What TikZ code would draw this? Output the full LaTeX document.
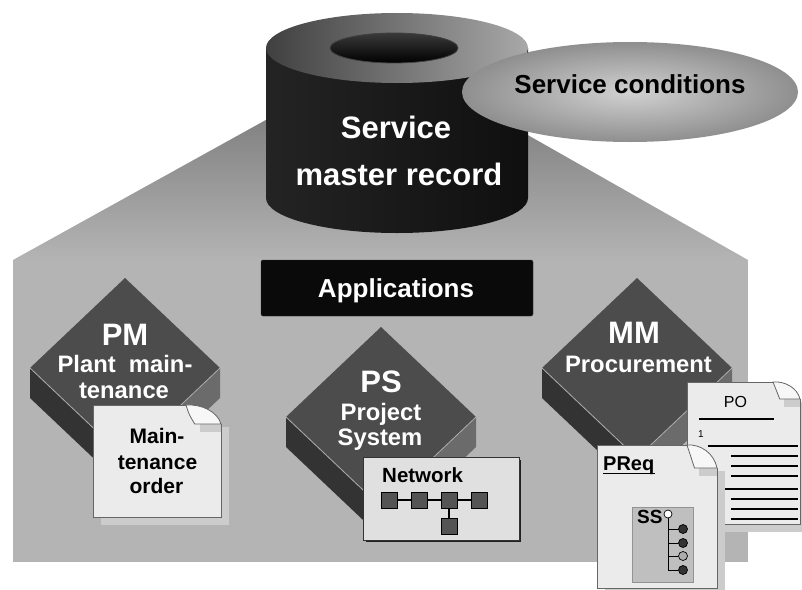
\documentclass[tikz,border=0pt]{standalone}
\usepackage{fontspec}
\setmainfont{Liberation Sans}

\definecolor{houseflat}{gray}{0.705}
\definecolor{houseroof}{gray}{0.42}
\definecolor{cyltopL}{gray}{0.25}
\definecolor{cyltopR}{gray}{0.66}
\definecolor{cylbodyL}{gray}{0.14}
\definecolor{cylbodyR}{gray}{0.06}
\definecolor{condin}{gray}{0.82}
\definecolor{condout}{gray}{0.56}
\definecolor{faceT}{gray}{0.30}
\definecolor{faceL}{gray}{0.20}
\definecolor{faceR}{gray}{0.42}
\definecolor{facehi}{gray}{0.68}
\definecolor{pagefill}{gray}{0.92}
\definecolor{pageshadow}{gray}{0.80}
\definecolor{pageedge}{gray}{0.40}
\definecolor{flapfill}{gray}{0.97}
\definecolor{netfill}{gray}{0.88}
\definecolor{nodefill}{gray}{0.33}
\definecolor{ssfill}{gray}{0.75}

% sheet of paper with a curled top-right corner:
% left, top, right, bottom, ear width, ear height
\newcommand{\foldedpage}[6]{%
  \fill[pageshadow] ({#1+8},{#2+#6+3}) rectangle ({#3+8},{#4+8});
  \fill[pagefill]
    (#1,#2) -- ({#3-#5},#2) .. controls ({#3-#5+3},{#2+#6*0.5}) .. ({#3-0.75*#5},{#2+#6})
    -- (#3,{#2+#6}) -- (#3,#4) -- (#1,#4) -- cycle;
  \fill[pageshadow] ({#3-0.6*#5},{#2+#6}) rectangle ({#3-0.4},{#2+#6+8});
  \draw[pageedge, line width=0.8pt]
    ({#3-#5},#2) -- (#1,#2) -- (#1,#4) -- (#3,#4) -- (#3,{#2+#6});
  \filldraw[fill=flapfill, draw=pageedge, line width=0.8pt]
    ({#3-#5},#2) .. controls ({#3-0.55*#5},{#2-1}) and ({#3-0.1*#5},{#2+0.35*#6}) .. (#3,{#2+#6})
    -- ({#3-0.75*#5},{#2+#6}) .. controls ({#3-#5+3},{#2+#6*0.5}) .. cycle;
}

\begin{document}
\begin{tikzpicture}[x=1pt,y=-1pt,
  txt/.style={inner sep=0pt, anchor=base},
  onDark/.style={text=white},
  f31/.style={font=\fontsize{31}{31}\selectfont\bfseries},
  f26/.style={font=\fontsize{26}{26}\selectfont\bfseries},
  f24/.style={font=\fontsize{23.8}{24}\selectfont\bfseries},
  f21/.style={font=\fontsize{21}{21}\selectfont\bfseries},
  f20/.style={font=\fontsize{20.5}{21}\selectfont\bfseries},
  netsq/.style={draw=black, line width=0.8pt, fill=nodefill, minimum size=16pt, inner sep=0pt},
  netlink/.style={draw=black, line width=1.3pt},
  leaf/.style={circle, draw=black, line width=0.7pt, minimum size=9pt, inner sep=0pt},
  pics/appbox/.style={code={
    \fill[faceL] (-95,90) -- (0,180) -- (0,210) -- (-95,120) -- cycle;
    \fill[faceR] (0,180) -- (95,90) -- (95,120) -- (0,210) -- cycle;
    \fill[faceT] (0,0) -- (95,90) -- (0,180) -- (-95,90) -- cycle;
    \draw[facehi, line width=0.8pt] (-95,90) -- (0,180) -- (95,90);
  }}
]
\useasboundingbox (0,0) rectangle (802,589);

% house-shaped backdrop
\fill[houseflat] (13,260) rectangle (748,562);
\shade[top color=houseroof, bottom color=houseflat] (13,260) -- (385,54) -- (748,260) -- cycle;

% database cylinder
\shade[left color=cylbodyL, right color=cylbodyR]
  (266,48) -- (266,198) .. controls (266,217.33) and (324.65,233) .. (397,233)
  .. controls (469.35,233) and (528,217.33) .. (528,198) -- (528,48) -- cycle;
\shade[left color=cyltopL, right color=cyltopR] (397,48) ellipse (131 and 35);
\shade[top color=gray!45!black, bottom color=black, draw=gray!50!black, line width=0.8pt]
  (394,48) ellipse (64 and 15);
\node[txt, f31, onDark] (svc1) at (396,138) {Service};
\node[txt, f31, onDark] (svc2) at (399,185) {master record};

% conditions bubble
\shade[inner color=condin, outer color=condout] (630,92) ellipse (168 and 50);
\node[txt, f26] (cond) at (630,93) {Service conditions};

% applications banner
\node[draw=gray!35!black, fill=gray!8!black, rounded corners=2pt,
      minimum width=272pt, minimum height=56pt, inner sep=0pt] (apps) at (397,288) {};
\node[txt, f26, onDark] (appslbl) at (396,297) {Applications};

% application blocks
\pic at (125,278) {appbox};
\pic at (381,327) {appbox};
\pic at (637,278) {appbox};

\node[txt, f31, onDark] (pm) at (125,345) {PM};
\node[txt, f24, onDark] (pm1) at (125,372) {Plant\ \ main-};
\node[txt, f24, onDark] (pm2) at (124,398) {tenance};

\node[txt, f31, onDark] (ps) at (381,392) {PS};
\node[txt, f24, onDark] (ps1) at (381,420) {Project};
\node[txt, f24, onDark] (ps2) at (380,445) {System};

\node[txt, f31, onDark] (mm) at (634,343) {MM};
\node[txt, f24, onDark] (mm1) at (638.5,372) {Procurement};

% maintenance order sheet
\foldedpage{93}{405}{221}{517}{35}{19}
\node[txt, f21] (mo1) at (157,443) {Main-};
\node[txt, f21] (mo2) at (157.5,469) {tenance};
\node[txt, f21] (mo3) at (156.5,493) {order};

% network panel
\fill[gray!25!black] (365.5,459.5) rectangle (521,542);
\filldraw[fill=netfill, draw=gray!40!black, line width=0.8pt] (363,457) rectangle (519,540);
\node[txt, f20, anchor=base west] (netlbl) at (382,482) {Network};
\node[netsq] (n1) at (389,500) {};
\node[netsq] (n2) at (419,500) {};
\node[netsq] (n3) at (449,500) {};
\node[netsq] (n4) at (479,500) {};
\node[netsq] (n5) at (449,526) {};
\draw[netlink] (n1) -- (n2);
\draw[netlink] (n2) -- (n3);
\draw[netlink] (n3) -- (n4);
\draw[netlink] (n3) -- (n5);

% purchase order sheet
\foldedpage{687}{382}{800}{524}{27}{17}
\node[txt, font=\fontsize{16}{16}\selectfont] (po) at (735.5,407) {PO};
\node[txt, font=\fontsize{10}{10}\selectfont] (po1) at (701,437) {1};
\begin{scope}[line width=1.1pt]
  \draw (699,419) -- (774,419);
  \draw (708,446) -- (798,446);
  \draw (731,456) -- (798,456);
  \draw (731,466) -- (798,466);
  \draw (731,476) -- (798,476);
  \draw (725,489) -- (798,489);
  \draw (731,499) -- (798,499);
  \draw (731,509) -- (798,509);
  \draw (731,519) -- (798,519);
\end{scope}

% purchase requisition sheet
\foldedpage{597}{445}{717}{588}{30}{23}
\node[txt, font=\fontsize{20}{20}\selectfont\bfseries, anchor=base west] (preq) at (603,470) {PReq};
\draw[line width=1.2pt] ([yshift=-3.5pt]preq.base west) -- ([yshift=-3.5pt]preq.base east);
\filldraw[fill=ssfill, draw=gray!85, line width=0.8pt] (632,507) rectangle (693,582);
\node[txt, font=\fontsize{19}{19}\selectfont\bfseries, anchor=base west] (ss) at (637,523) {SS};
\node[leaf, fill=white, minimum size=8pt] (c0) at (668,514) {};
\coordinate (t1) at (668,529);
\coordinate (t2) at (668,543);
\coordinate (t3) at (668,556);
\coordinate (t4) at (668,570);
\node[leaf, fill=gray!40!black] (c1) at (683,529) {};
\node[leaf, fill=gray!40!black] (c2) at (683,543) {};
\node[leaf, fill=gray!65] (c3) at (683,556) {};
\node[leaf, fill=gray!40!black] (c4) at (683,570) {};
\draw[line width=1pt] (c0) -- (t4);
\draw[line width=1pt] (t1) -- (c1);
\draw[line width=1pt] (t2) -- (c2);
\draw[line width=1pt] (t3) -- (c3);
\draw[line width=1pt] (t4) -- (c4);
\end{tikzpicture}
\end{document}
